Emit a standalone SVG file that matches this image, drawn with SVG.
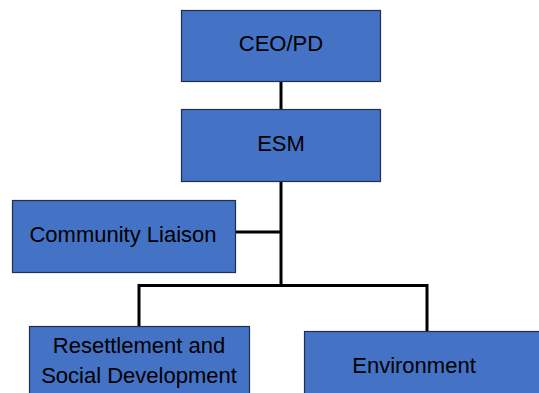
<svg xmlns="http://www.w3.org/2000/svg" width="539" height="393" viewBox="0 0 539 393">
<style>
.box{fill:#4472C4;stroke:#1F2F4F;stroke-width:1.2}
.lbl{font-family:"Liberation Sans",Arial,sans-serif;font-size:22px;fill:#000;text-anchor:middle}
.conn{fill:none;stroke:#000;stroke-width:3}
</style>
<rect width="539" height="393" fill="#fff"/>
<g id="connectors">
<line class="conn" x1="281" y1="81" x2="281" y2="109"/>
<line class="conn" x1="281" y1="181" x2="281" y2="286"/>
<line class="conn" x1="235" y1="232" x2="281" y2="232"/>
<polyline class="conn" points="139,326 139,285.5 427,285.5 427,331"/>
</g>
<g id="ceo"><rect class="box" x="181.5" y="10.5" width="199" height="71"/><text class="lbl" x="281" y="51">CEO/PD</text></g>
<g id="esm"><rect class="box" x="181.5" y="109.5" width="199" height="72"/><text class="lbl" x="281" y="151">ESM</text></g>
<g id="community"><rect class="box" x="12.5" y="200.5" width="223" height="72"/><text class="lbl" x="123" y="242">Community Liaison</text></g>
<g id="resettlement"><rect class="box" x="29.5" y="326.5" width="220" height="80"/><text class="lbl" x="139" y="353">Resettlement and</text><text class="lbl" x="139" y="383">Social Development</text></g>
<g id="environment"><rect class="box" x="304.5" y="331.5" width="250" height="80"/><text class="lbl" x="414" y="373">Environment</text></g>
</svg>
